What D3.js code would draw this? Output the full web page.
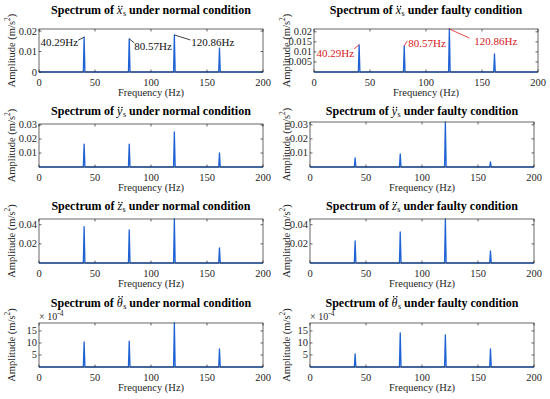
<!DOCTYPE html>
<html>
<head>
<meta charset="utf-8">
<script src="https://cdn.jsdelivr.net/npm/d3@7"></script>
<style>
  body { margin: 0; background: #fff; }
  svg { display: block; font-family: "Liberation Serif", "Times New Roman", serif; }
</style>
</head>
<body>
<svg id="chart" width="550" height="399"></svg>
<script>
// peak frequencies (Hz) and peak amplitudes
const peakFreqs = [40.29, 80.57, 120.86, 161.14];
const xNormal = [0.0170, 0.0162, 0.0181, 0.0117];
const xFaulty = [0.0135, 0.0130, 0.0214, 0.0090];
const yNormal = [0.0164, 0.0164, 0.0250, 0.0100];
const yFaulty = [0.0064, 0.0093, 0.0320, 0.0036];
const zNormal = [0.0379, 0.0347, 0.0460, 0.0158];
const zFaulty = [0.0230, 0.0326, 0.0460, 0.0126];
const thNormal = [10.4e-4, 10.8e-4, 18.3e-4, 7.5e-4];
const thFaulty = [5.4e-4, 14.2e-4, 13.3e-4, 7.5e-4];

const freqTicks = [0, 50, 100, 150, 200];
const ticksXN = [0, 0.01, 0.02];
const ticksXF = [0.005, 0.01, 0.015, 0.02];
const ticksY = [0.01, 0.02, 0.03];
const ticksZ = [0.02, 0.04];
const ticksTh = [5e-4, 10e-4, 15e-4];

const annotLabels = ["40.29Hz", "80.57Hz", "120.86Hz"];

const blue = "#1f62d4";
const axisCol = "#262626";

// layout: box = [left, right, top, bottom], titleY = title centre
const panels = [
  { sym: "x", cond: "normal", amps: xNormal, ymax: 0.021, ticks: ticksXN, box: [39, 263, 29, 72], titleY: 10,
    annot: { color: "#111", off: [[-6, 3, -6, 5, "end"], [5, 4, 5, 7, "start"], [16, 5, 17, 7, "start"]] } },
  { sym: "x", cond: "faulty", amps: xFaulty, ymax: 0.0214, ticks: ticksXF, box: [314, 538, 29, 72], titleY: 10,
    annot: { color: "#d7191c", off: [[-5, 4, -5, 8, "end"], [3, -5, 4, -3, "start"], [20, 9, 25, 12, "start"]] } },
  { sym: "y", cond: "normal", amps: yNormal, ymax: 0.0307, ticks: ticksY, box: [39, 263, 124, 167], titleY: 111 },
  { sym: "y", cond: "faulty", amps: yFaulty, ymax: 0.032, ticks: ticksY, box: [310, 534, 122, 167], titleY: 111 },
  { sym: "z", cond: "normal", amps: zNormal, ymax: 0.046, ticks: ticksZ, box: [39, 263, 219, 263], titleY: 206 },
  { sym: "z", cond: "faulty", amps: zFaulty, ymax: 0.046, ticks: ticksZ, box: [310, 534, 219, 263], titleY: 206 },
  { sym: "\u03b8", cond: "normal", amps: thNormal, ymax: 18.3e-4, ticks: ticksTh, box: [39, 263, 323, 367], titleY: 303, exp: true },
  { sym: "\u03b8", cond: "faulty", amps: thFaulty, ymax: 18.3e-4, ticks: ticksTh, box: [310, 534, 323, 367], titleY: 303, exp: true }
];

const svg = d3.select("#chart");
const halfW = 0.7; // half width of a spectral peak, Hz

panels.forEach((p, idx) => {
  const [l, r, t, b] = p.box;
  const x = d3.scaleLinear().domain([0, 200]).range([l, r]);
  const y = d3.scaleLinear().domain([0, p.ymax]).range([b, t]);
  const g = svg.append("g");

  // spectrum line
  const pts = [[0, 0]];
  peakFreqs.forEach((f, i) => {
    pts.push([f - halfW, 0], [f, p.amps[i]], [f + halfW, 0]);
  });
  pts.push([200, 0]);
  g.append("path")
    .attr("d", d3.line().x(d => x(d[0])).y(d => y(d[1]))(pts))
    .attr("fill", "none")
    .attr("stroke", blue)
    .attr("stroke-width", 1.3)
    .attr("stroke-linejoin", "round");

  // box
  g.append("rect")
    .attr("x", l).attr("y", t).attr("width", r - l).attr("height", b - t)
    .attr("fill", "none").attr("stroke", axisCol).attr("stroke-width", 0.7);

  // x ticks (inward, top and bottom)
  freqTicks.forEach(v => {
    const xx = x(v);
    g.append("line").attr("x1", xx).attr("x2", xx).attr("y1", b).attr("y2", b - 2.5)
      .attr("stroke", axisCol).attr("stroke-width", 0.7);
    g.append("line").attr("x1", xx).attr("x2", xx).attr("y1", t).attr("y2", t + 2.5)
      .attr("stroke", axisCol).attr("stroke-width", 0.7);
    g.append("text").attr("x", xx).attr("y", b + 10.5)
      .attr("text-anchor", "middle").attr("dominant-baseline", "central")
      .attr("font-size", 10.5).attr("fill", axisCol).text(v);
  });

  // y ticks
  const fmt = p.exp ? (v => d3.format("d")(Math.round(v / 1e-4))) : (v => String(+v.toFixed(4)));
  p.ticks.forEach(v => {
    const yy = y(v);
    g.append("line").attr("x1", l).attr("x2", l + 2.5).attr("y1", yy).attr("y2", yy)
      .attr("stroke", axisCol).attr("stroke-width", 0.7);
    g.append("line").attr("x1", r).attr("x2", r - 2.5).attr("y1", yy).attr("y2", yy)
      .attr("stroke", axisCol).attr("stroke-width", 0.7);
    g.append("text").attr("x", l - 2).attr("y", yy)
      .attr("text-anchor", "end").attr("dominant-baseline", "central")
      .attr("font-size", 10.5).attr("fill", axisCol).text(fmt(v));
  });

  if (p.exp) {
    const e = g.append("text").attr("x", l).attr("y", t - 3)
      .attr("font-size", 10).attr("fill", axisCol);
    e.append("tspan").text("\u00d7 10");
    e.append("tspan").attr("dy", -4).attr("font-size", 7.5).text("-4");
  }

  // x label
  g.append("text").attr("x", (l + r) / 2).attr("y", b + 20.5)
    .attr("text-anchor", "middle").attr("dominant-baseline", "central")
    .attr("font-size", 10.5).attr("fill", axisCol).text("Frequency (Hz)");

  // y label
  const ylx = idx % 2 === 0 ? 11 : 286;
  const yl = g.append("text")
    .attr("transform", `translate(${ylx},${(t + b) / 2}) rotate(-90)`)
    .attr("text-anchor", "middle").attr("dominant-baseline", "central")
    .attr("font-size", 10.5).attr("fill", axisCol);
  yl.append("tspan").text("Amplitude (m/s");
  yl.append("tspan").attr("dy", -4).attr("font-size", 7.5).text("2");
  yl.append("tspan").attr("dy", 4).text(")");

  // title: symbol with subscript s; the double dot is drawn as two small circles
  const ti = g.append("text").attr("x", (l + r) / 2).attr("y", p.titleY)
    .attr("text-anchor", "middle").attr("dominant-baseline", "central")
    .attr("font-size", 12).attr("font-weight", "bold").attr("fill", "#000");
  const pre = "Spectrum of ";
  ti.append("tspan").text(pre);
  ti.append("tspan").attr("font-style", "italic").attr("font-weight", "normal").text(p.sym);
  ti.append("tspan").attr("dx", 0.5).attr("dy", 3).attr("font-size", 8).attr("font-weight", "normal").text("s");
  ti.append("tspan").attr("dy", -3).text(" under " + p.cond + " condition");

  const ext = ti.node().getExtentOfChar(pre.length);
  const tall = p.sym === "\u03b8";
  const dcx = ext.x + ext.width / 2 + (tall ? 0.8 : 0.6);
  const dcy = p.titleY + (tall ? -6.3 : -3.6);
  [-1.6, 1.6].forEach(d => {
    g.append("circle").attr("cx", dcx + d).attr("cy", dcy).attr("r", 0.75).attr("fill", "#000");
  });

  // peak annotations
  if (p.annot) {
    annotLabels.forEach((lab, i) => {
      const tx = x(peakFreqs[i]), ty = y(p.amps[i]);
      const o = p.annot.off[i];
      g.append("line").attr("x1", tx).attr("y1", ty).attr("x2", tx + o[0]).attr("y2", ty + o[1])
        .attr("stroke", p.annot.color).attr("stroke-width", 0.8);
      g.append("text").attr("x", tx + o[2]).attr("y", ty + o[3])
        .attr("text-anchor", o[4]).attr("dominant-baseline", "central")
        .attr("font-size", 11).attr("fill", p.annot.color).text(lab);
    });
  }
});
</script>
</body>
</html>
